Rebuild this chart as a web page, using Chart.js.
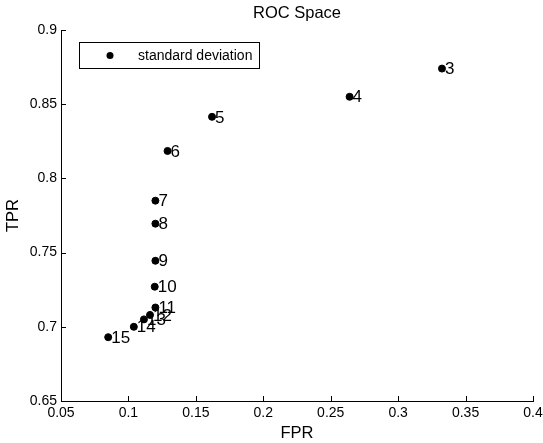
<!DOCTYPE html>
<html>
<head>
<meta charset="utf-8">
<script src="https://cdn.jsdelivr.net/npm/chart.js@4"></script>
<style>
  html, body { margin: 0; padding: 0; background: #fff; }
  #wrap { width: 543px; height: 443px; }
</style>
</head>
<body>
<div id="wrap"><canvas id="roc"></canvas></div>
<script>
// Point labels (window sizes) and ROC coordinates
const labels = ['3', '4', '5', '6', '7', '8', '9', '10', '11', '12', '13', '14', '15'];
const fpr = [0.3325, 0.264, 0.162, 0.129, 0.120, 0.120, 0.120, 0.1195, 0.120, 0.116, 0.1115, 0.104, 0.085];
const tpr = [0.874, 0.855, 0.8415, 0.8185, 0.785, 0.7695, 0.7445, 0.727, 0.713, 0.708, 0.705, 0.700, 0.693];
const xTicks = [0.05, 0.1, 0.15, 0.2, 0.25, 0.3, 0.35, 0.4];
const yTicks = [0.65, 0.7, 0.75, 0.8, 0.85, 0.9];

const FONT = 'Arial, "Liberation Sans", Helvetica, sans-serif';

// title, legend box, inward ticks and point labels
const matlabLook = {
    id: 'matlabLook',
    afterDraw(chart) {
        const ctx = chart.ctx;
        const area = chart.chartArea;
        const xs = chart.scales.x, ys = chart.scales.y;
        ctx.save();

        // ticks pointing inward
        ctx.strokeStyle = '#000';
        ctx.lineWidth = 1;
        ctx.beginPath();
        xs.ticks.forEach(t => {
            const px = Math.round(xs.getPixelForValue(t.value)) + 0.5;
            ctx.moveTo(px, area.bottom);
            ctx.lineTo(px, area.bottom - 5);
        });
        ys.ticks.forEach(t => {
            const py = Math.round(ys.getPixelForValue(t.value)) + 0.5;
            ctx.moveTo(area.left, py);
            ctx.lineTo(area.left + 5, py);
        });
        ctx.stroke();

        // point labels
        const meta = chart.getDatasetMeta(0);
        ctx.fillStyle = '#000';
        ctx.font = '17px ' + FONT;
        ctx.textBaseline = 'middle';
        ctx.textAlign = 'left';
        meta.data.forEach((pt, i) => {
            ctx.fillText(labels[i], pt.x + 3, pt.y + 1);
        });

        // title
        ctx.font = '16.5px ' + FONT;
        ctx.textAlign = 'center';
        ctx.fillText('ROC Space', (area.left + area.right) / 2, 13);

        // legend box
        const ds = chart.data.datasets[0];
        ctx.fillStyle = '#fff';
        ctx.fillRect(79.5, 42.5, 180, 26);
        ctx.strokeRect(79.5, 42.5, 180, 26);
        ctx.fillStyle = '#000';
        ctx.beginPath();
        ctx.arc(110, 55.5, 3.5, 0, Math.PI * 2);
        ctx.fill();
        ctx.font = '14px ' + FONT;
        ctx.textAlign = 'left';
        ctx.fillText(ds.label, 138, 56);

        ctx.restore();
    }
};

function fmt(v) {
    return String(Number(v.toFixed(2)));
}

new Chart(document.getElementById('roc'), {
    type: 'scatter',
    data: {
        datasets: [{
            label: 'standard deviation',
            data: fpr.map((x, i) => ({ x: x, y: tpr[i] })),
            backgroundColor: '#000',
            borderColor: '#000',
            pointRadius: 3.5,
            pointHoverRadius: 3.5,
            showLine: false
        }]
    },
    options: {
        responsive: true,
        maintainAspectRatio: false,
        animation: false,
        layout: { padding: { top: 30, right: 0, left: 0, bottom: 0 } },
        plugins: {
            legend: { display: false },
            title: { display: false },
            tooltip: { enabled: false }
        },
        scales: {
            x: {
                type: 'linear',
                min: 0.05,
                max: 0.4,
                afterBuildTicks: s => { s.ticks = xTicks.map(v => ({ value: v })); },
                afterFit: s => { s.height = 42; s.paddingLeft = 0; s.paddingRight = 10; },
                grid: { drawOnChartArea: false, drawTicks: false },
                border: { display: true, color: '#000', width: 1 },
                ticks: {
                    color: '#000',
                    padding: 4,
                    maxRotation: 0,
                    autoSkip: false,
                    font: { family: FONT, size: 14 },
                    callback: v => fmt(v)
                },
                title: {
                    display: true,
                    text: 'FPR',
                    color: '#000',
                    font: { family: FONT, size: 16.5 },
                    padding: { top: 0, bottom: 0 }
                }
            },
            y: {
                type: 'linear',
                min: 0.65,
                max: 0.9,
                afterBuildTicks: s => { s.ticks = yTicks.map(v => ({ value: v })); },
                afterFit: s => { s.width = 61; },
                grid: { drawOnChartArea: false, drawTicks: false },
                border: { display: true, color: '#000', width: 1 },
                ticks: {
                    color: '#000',
                    padding: 4,
                    autoSkip: false,
                    font: { family: FONT, size: 14 },
                    callback: v => fmt(v)
                },
                title: {
                    display: true,
                    text: 'TPR',
                    color: '#000',
                    font: { family: FONT, size: 16.5 },
                    padding: { top: 4, bottom: 0 }
                }
            }
        }
    },
    plugins: [matlabLook]
});
</script>
</body>
</html>
